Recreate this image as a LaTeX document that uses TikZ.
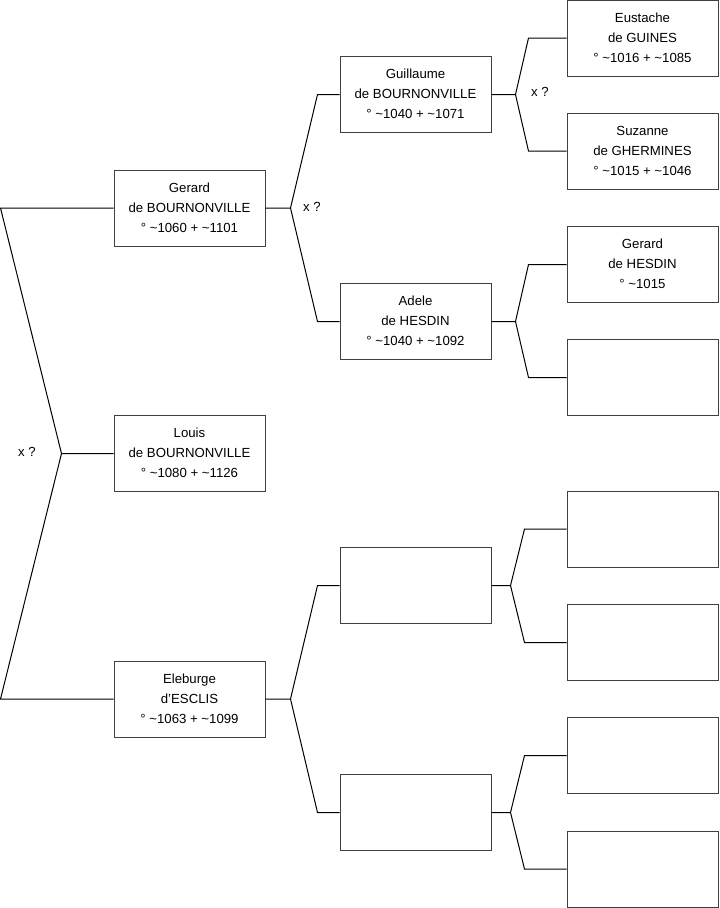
\documentclass[tikz,border=0pt]{standalone}
\usepackage{fontspec}
\setmainfont{Liberation Sans}
\usetikzlibrary{calc}
\newcommand\pbox[1]{\raisebox{1.5pt}{\begin{tabular}{@{}c@{}}#1\end{tabular}}}
\begin{document}
\begin{tikzpicture}[x=0.75pt,y=-0.75pt,
  person/.style={draw=black!75,line width=0.75pt,minimum width=113.25pt,minimum height=57pt,
    inner sep=0pt,align=center,font=\fontsize{9.9}{15}\selectfont,fill=white},
  link/.style={draw=black,line width=0.75pt},
  xlab/.style={font=\fontsize{9.9}{12}\selectfont,inner sep=0pt}]
\useasboundingbox (0,0) rectangle (719,908);
% generation 1
\node[person] (ger) at (189.5,208) {\pbox{Gerard\\de BOURNONVILLE\\° \textasciitilde1060 + \textasciitilde1101}};
\node[person] (lou) at (189.5,453.5) {\pbox{Louis\\de BOURNONVILLE\\° \textasciitilde1080 + \textasciitilde1126}};
\node[person] (ele) at (189.5,699) {\pbox{Eleburge\\d'ESCLIS\\° \textasciitilde1063 + \textasciitilde1099}};
% generation 2
\node[person] (gui) at (415.5,94.5) {\pbox{Guillaume\\de BOURNONVILLE\\° \textasciitilde1040 + \textasciitilde1071}};
\node[person] (ade) at (415.5,321.5) {\pbox{Adele\\de HESDIN\\° \textasciitilde1040 + \textasciitilde1092}};
\node[person] (ea) at (415.5,585.5) {};
\node[person] (eb) at (415.5,812.5) {};
% generation 3
\node[person] (eus) at (642.5,38) {\pbox{Eustache\\de GUINES\\° \textasciitilde1016 + \textasciitilde1085}};
\node[person] (suz) at (642.5,151) {\pbox{Suzanne\\de GHERMINES\\° \textasciitilde1015 + \textasciitilde1046}};
\node[person] (gh) at (642.5,264.5) {\pbox{Gerard\\de HESDIN\\° \textasciitilde1015}};
\node[person] (e1) at (642.5,377.5) {};
\node[person] (e2) at (642.5,529) {};
\node[person] (e3) at (642.5,642.5) {};
\node[person] (e4) at (642.5,755.5) {};
\node[person] (e5) at (642.5,869) {};
% left fork
\draw[link] (ger.west) -- ++(-113,0) -- ($(lou.west)+(-52,0)$) -- (lou.west);
\draw[link] (ele.west) -- ++(-113,0) -- ($(lou.west)+(-52,0)$);
\node[xlab] (x0) at (27,452) {x ?};
% generation 1 -> 2 forks
\draw[link] (gui.west) -- ++(-22,0) -- ($(ger.east)+(25,0)$) -- (ger.east);
\draw[link] (ade.west) -- ++(-22,0) -- ($(ger.east)+(25,0)$);
\node[xlab] (x1) at (312,207) {x ?};
\draw[link] (ea.west) -- ++(-22,0) -- ($(ele.east)+(25,0)$) -- (ele.east);
\draw[link] (eb.west) -- ++(-22,0) -- ($(ele.east)+(25,0)$);
% generation 2 -> 3 forks
\draw[link] (eus.west) -- ++(-38,0) -- ($(gui.east)+(24,0)$) -- (gui.east);
\draw[link] (suz.west) -- ++(-38,0) -- ($(gui.east)+(24,0)$);
\node[xlab] (x2) at (540,92) {x ?};
\draw[link] (gh.west) -- ++(-38,0) -- ($(ade.east)+(24,0)$) -- (ade.east);
\draw[link] (e1.west) -- ++(-38,0) -- ($(ade.east)+(24,0)$);
\draw[link] (e2.west) -- ++(-42,0) -- ($(ea.east)+(19,0)$) -- (ea.east);
\draw[link] (e3.west) -- ++(-42,0) -- ($(ea.east)+(19,0)$);
\draw[link] (e4.west) -- ++(-42,0) -- ($(eb.east)+(19,0)$) -- (eb.east);
\draw[link] (e5.west) -- ++(-42,0) -- ($(eb.east)+(19,0)$);
\end{tikzpicture}
\end{document}
